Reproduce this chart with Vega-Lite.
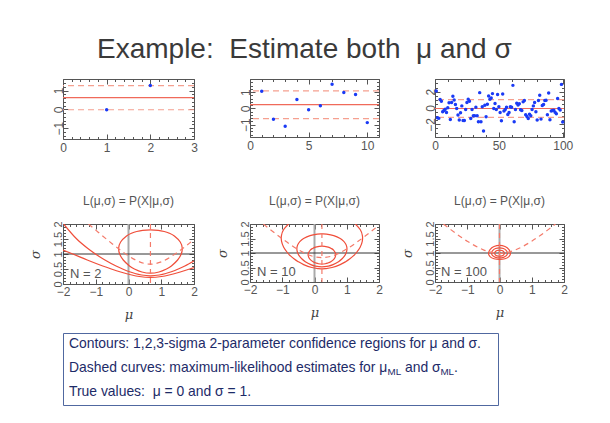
{
 "$schema": "https://vega.github.io/schema/vega-lite/v6.json",
 "background": "white",
 "padding": {"left": 23, "top": 36, "right": 4, "bottom": 4},
 "title": {"text": "Example:\u00a0 Estimate both\u00a0 μ and σ", "fontSize": 28, "font": "Liberation Sans", "fontWeight": "normal", "color": "#3a3a3a", "anchor": "middle", "baseline": "bottom", "offset": -14, "dx": 6},
 "spacing": 10,
 "datasets": {
  "t1": [{"i":1,"v":-0.02},{"i":2,"v":1.26}],
  "t1s": [{"kind":"mean","v":0.62},{"kind":"sd","v":-0.02},{"kind":"sd","v":1.26}],
  "t2": [{"i":1,"v":1.05},{"i":2,"v":-0.66},{"i":3,"v":-1.09},{"i":4,"v":0.54},{"i":5,"v":-0.08},{"i":6,"v":0.16},{"i":7,"v":1.48},{"i":8,"v":0.97},{"i":9,"v":0.85},{"i":10,"v":-0.87}],
  "t2s": [{"kind":"mean","v":0.235},{"kind":"sd","v":1.07},{"kind":"sd","v":-0.62}],
  "t3": [{"i":1,"v":2.09},{"i":2,"v":-1.19},{"i":3,"v":-1.27},{"i":4,"v":1.03},{"i":5,"v":0.83},{"i":6,"v":-0.47},{"i":7,"v":-0.3},{"i":8,"v":-0.14},{"i":9,"v":-0.55},{"i":10,"v":0.02},
         {"i":11,"v":0.63},{"i":12,"v":-1.4},{"i":13,"v":0.67},{"i":14,"v":1.44},{"i":15,"v":0.99},{"i":16,"v":0.43},{"i":17,"v":-0.06},{"i":18,"v":-0.87},{"i":19,"v":-1.48},{"i":20,"v":-0.59},
         {"i":21,"v":0.26},{"i":22,"v":-1.52},{"i":23,"v":-1.52},{"i":24,"v":-0.18},{"i":25,"v":0.67},{"i":26,"v":1.07},{"i":27,"v":0.83},{"i":28,"v":-1.28},{"i":29,"v":-0.18},{"i":30,"v":-0.95},
         {"i":31,"v":-0.95},{"i":32,"v":0.1},{"i":33,"v":-0.95},{"i":34,"v":-1.68},{"i":35,"v":1.88},{"i":36,"v":-1.68},{"i":37,"v":0.14},{"i":38,"v":-2.81},{"i":39,"v":0.34},{"i":40,"v":-1.07},
         {"i":41,"v":0.47},{"i":42,"v":1.48},{"i":43,"v":1.07},{"i":44,"v":1.23},{"i":45,"v":1.76},{"i":46,"v":-0.06},{"i":47,"v":0.55},{"i":48,"v":-0.18},{"i":49,"v":1.64},{"i":50,"v":0.14},
         {"i":51,"v":-0.55},{"i":52,"v":-1.56},{"i":53,"v":1.72},{"i":54,"v":-0.38},{"i":55,"v":-0.18},{"i":56,"v":0.1},{"i":57,"v":-0.79},{"i":58,"v":-0.55},{"i":59,"v":0.14},{"i":60,"v":0.1},
         {"i":61,"v":2.77},{"i":62,"v":-1.68},{"i":63,"v":-0.18},{"i":64,"v":0.59},{"i":65,"v":0.38},{"i":66,"v":0.51},{"i":67,"v":-0.22},{"i":68,"v":-0.3},{"i":69,"v":0.75},{"i":70,"v":0.91},
         {"i":71,"v":-0.83},{"i":72,"v":-1.03},{"i":73,"v":-1.28},{"i":74,"v":-0.75},{"i":75,"v":-0.95},{"i":76,"v":-0.18},{"i":77,"v":0.26},{"i":78,"v":0.67},{"i":79,"v":-0.47},{"i":80,"v":-1.48},
         {"i":81,"v":0.91},{"i":82,"v":1.56},{"i":83,"v":-1.36},{"i":84,"v":0.3},{"i":85,"v":0.43},{"i":86,"v":0.91},{"i":87,"v":0.95},{"i":88,"v":-0.83},{"i":89,"v":1.84},{"i":90,"v":-1.44},
         {"i":91,"v":-0.38},{"i":92,"v":-0.3},{"i":93,"v":-0.26},{"i":94,"v":-0.51},{"i":95,"v":-0.71},{"i":96,"v":1.15},{"i":97,"v":-0.06},{"i":98,"v":-0.26},{"i":99,"v":2.89},{"i":100,"v":-1.72}],
  "t3s": [{"kind":"mean","v":-0.06},{"kind":"sd","v":1.03},{"kind":"sd","v":-1.15}],
  "truth": [{"mu":0,"sig":1}],
  "b1": [
   {"g":"c1","k":1,"mu":0.67,"sig":0.36},{"g":"c1","k":2,"mu":0.93,"sig":0.4},{"g":"c1","k":3,"mu":1.16,"sig":0.5},{"g":"c1","k":4,"mu":1.31,"sig":0.6},{"g":"c1","k":5,"mu":1.5,"sig":0.8},{"g":"c1","k":6,"mu":1.61,"sig":1.0},{"g":"c1","k":7,"mu":1.64,"sig":1.2},{"g":"c1","k":8,"mu":1.58,"sig":1.4},{"g":"c1","k":9,"mu":1.4,"sig":1.6},{"g":"c1","k":10,"mu":1.23,"sig":1.7},{"g":"c1","k":11,"mu":1.09,"sig":1.75},{"g":"c1","k":12,"mu":0.91,"sig":1.79},{"g":"c1","k":13,"mu":0.67,"sig":1.805},{"g":"c1","k":14,"mu":0.43,"sig":1.79},{"g":"c1","k":15,"mu":0.25,"sig":1.75},{"g":"c1","k":16,"mu":0.11,"sig":1.7},{"g":"c1","k":17,"mu":-0.06,"sig":1.6},{"g":"c1","k":18,"mu":-0.24,"sig":1.4},{"g":"c1","k":19,"mu":-0.3,"sig":1.2},{"g":"c1","k":20,"mu":-0.27,"sig":1.0},{"g":"c1","k":21,"mu":-0.16,"sig":0.8},{"g":"c1","k":22,"mu":0.03,"sig":0.6},{"g":"c1","k":23,"mu":0.18,"sig":0.5},{"g":"c1","k":24,"mu":0.41,"sig":0.4},
   {"g":"c2","k":2,"mu":-1.98,"sig":2.0},{"g":"c2","k":3,"mu":-1.58,"sig":1.5},{"g":"c2","k":4,"mu":-1.26,"sig":1.2},{"g":"c2","k":5,"mu":-1.01,"sig":1.0},{"g":"c2","k":6,"mu":-0.72,"sig":0.8},{"g":"c2","k":7,"mu":-0.38,"sig":0.6},{"g":"c2","k":8,"mu":-0.18,"sig":0.5},{"g":"c2","k":9,"mu":0.055,"sig":0.4},{"g":"c2","k":10,"mu":0.2,"sig":0.35},{"g":"c2","k":11,"mu":0.4,"sig":0.3},{"g":"c2","k":12,"mu":0.67,"sig":0.273},{"g":"c2","k":13,"mu":0.94,"sig":0.3},{"g":"c2","k":14,"mu":1.14,"sig":0.35},{"g":"c2","k":15,"mu":1.285,"sig":0.4},{"g":"c2","k":16,"mu":1.52,"sig":0.5},{"g":"c2","k":17,"mu":1.72,"sig":0.6},{"g":"c2","k":18,"mu":2.0,"sig":0.765},
   {"g":"c3","k":1,"mu":-2.0,"sig":1.13},{"g":"c3","k":2,"mu":-1.7,"sig":1.0},{"g":"c3","k":3,"mu":-1.26,"sig":0.8},{"g":"c3","k":4,"mu":-0.785,"sig":0.6},{"g":"c3","k":5,"mu":-0.525,"sig":0.5},{"g":"c3","k":6,"mu":-0.24,"sig":0.4},{"g":"c3","k":7,"mu":0.1,"sig":0.3},{"g":"c3","k":8,"mu":0.33,"sig":0.25},{"g":"c3","k":9,"mu":0.67,"sig":0.218},{"g":"c3","k":10,"mu":1.01,"sig":0.25},{"g":"c3","k":11,"mu":1.24,"sig":0.3},{"g":"c3","k":12,"mu":1.58,"sig":0.4},{"g":"c3","k":13,"mu":1.865,"sig":0.5},{"g":"c3","k":14,"mu":2.0,"sig":0.55},
   {"g":"ml","k":1,"mu":-1.22,"sig":2.0},{"g":"ml","k":3,"mu":-1,"sig":1.796},{"g":"ml","k":4,"mu":-0.5,"sig":1.343},{"g":"ml","k":5,"mu":-0.25,"sig":1.132},{"g":"ml","k":6,"mu":0,"sig":0.94},{"g":"ml","k":7,"mu":0.25,"sig":0.782},{"g":"ml","k":8,"mu":0.5,"sig":0.682},{"g":"ml","k":9,"mu":0.67,"sig":0.66},{"g":"ml","k":10,"mu":1.0,"sig":0.738},{"g":"ml","k":11,"mu":1.5,"sig":1.06},{"g":"ml","k":12,"mu":2.0,"sig":1.485}
  ],
  "b1v": [{"mu":0.67}],
  "b2": [
   {"g":"c1","k":1,"mu":0.23,"sig":0.62},{"g":"c1","k":2,"mu":0.335,"sig":0.63},{"g":"c1","k":3,"mu":0.405,"sig":0.65},{"g":"c1","k":4,"mu":0.505,"sig":0.7},{"g":"c1","k":5,"mu":0.61,"sig":0.8},{"g":"c1","k":6,"mu":0.653,"sig":0.9},{"g":"c1","k":7,"mu":0.649,"sig":1.0},{"g":"c1","k":8,"mu":0.591,"sig":1.1},{"g":"c1","k":9,"mu":0.53,"sig":1.15},{"g":"c1","k":10,"mu":0.426,"sig":1.2},{"g":"c1","k":11,"mu":0.23,"sig":1.235},{"g":"c1","k":12,"mu":0.034,"sig":1.2},{"g":"c1","k":13,"mu":-0.07,"sig":1.15},{"g":"c1","k":14,"mu":-0.131,"sig":1.1},{"g":"c1","k":15,"mu":-0.189,"sig":1.0},{"g":"c1","k":16,"mu":-0.193,"sig":0.9},{"g":"c1","k":17,"mu":-0.15,"sig":0.8},{"g":"c1","k":18,"mu":-0.045,"sig":0.7},{"g":"c1","k":19,"mu":0.055,"sig":0.65},{"g":"c1","k":20,"mu":0.125,"sig":0.63},
   {"g":"c2","k":1,"mu":0.23,"sig":0.525},{"g":"c2","k":2,"mu":0.43,"sig":0.55},{"g":"c2","k":3,"mu":0.575,"sig":0.6},{"g":"c2","k":4,"mu":0.745,"sig":0.7},{"g":"c2","k":5,"mu":0.856,"sig":0.8},{"g":"c2","k":6,"mu":0.932,"sig":0.9},{"g":"c2","k":7,"mu":0.98,"sig":1.0},{"g":"c2","k":8,"mu":1.004,"sig":1.1},{"g":"c2","k":9,"mu":1.002,"sig":1.2},{"g":"c2","k":10,"mu":0.972,"sig":1.3},{"g":"c2","k":11,"mu":0.909,"sig":1.4},{"g":"c2","k":12,"mu":0.799,"sig":1.5},{"g":"c2","k":13,"mu":0.597,"sig":1.6},{"g":"c2","k":14,"mu":0.373,"sig":1.65},{"g":"c2","k":15,"mu":0.23,"sig":1.657},{"g":"c2","k":16,"mu":0.087,"sig":1.65},{"g":"c2","k":17,"mu":-0.137,"sig":1.6},{"g":"c2","k":18,"mu":-0.339,"sig":1.5},{"g":"c2","k":19,"mu":-0.449,"sig":1.4},{"g":"c2","k":20,"mu":-0.512,"sig":1.3},{"g":"c2","k":21,"mu":-0.542,"sig":1.2},{"g":"c2","k":22,"mu":-0.544,"sig":1.1},{"g":"c2","k":23,"mu":-0.52,"sig":1.0},{"g":"c2","k":24,"mu":-0.472,"sig":0.9},{"g":"c2","k":25,"mu":-0.396,"sig":0.8},{"g":"c2","k":26,"mu":-0.285,"sig":0.7},{"g":"c2","k":27,"mu":-0.115,"sig":0.6},{"g":"c2","k":28,"mu":0.03,"sig":0.55},
   {"g":"c3","k":1,"mu":1.267,"sig":2.0},{"g":"c3","k":2,"mu":1.421,"sig":1.8},{"g":"c3","k":3,"mu":1.485,"sig":1.6},{"g":"c3","k":4,"mu":1.481,"sig":1.4},{"g":"c3","k":5,"mu":1.416,"sig":1.2},{"g":"c3","k":6,"mu":1.291,"sig":1.0},{"g":"c3","k":7,"mu":1.204,"sig":0.9},{"g":"c3","k":8,"mu":1.097,"sig":0.8},{"g":"c3","k":9,"mu":0.966,"sig":0.7},{"g":"c3","k":10,"mu":0.797,"sig":0.6},{"g":"c3","k":11,"mu":0.544,"sig":0.5},{"g":"c3","k":12,"mu":0.33,"sig":0.46},{"g":"c3","k":13,"mu":0.23,"sig":0.455},{"g":"c3","k":14,"mu":0.13,"sig":0.46},{"g":"c3","k":15,"mu":-0.084,"sig":0.5},{"g":"c3","k":16,"mu":-0.337,"sig":0.6},{"g":"c3","k":17,"mu":-0.506,"sig":0.7},{"g":"c3","k":18,"mu":-0.637,"sig":0.8},{"g":"c3","k":19,"mu":-0.744,"sig":0.9},{"g":"c3","k":20,"mu":-0.831,"sig":1.0},{"g":"c3","k":21,"mu":-0.956,"sig":1.2},{"g":"c3","k":22,"mu":-1.021,"sig":1.4},{"g":"c3","k":23,"mu":-1.025,"sig":1.6},{"g":"c3","k":24,"mu":-0.961,"sig":1.8},{"g":"c3","k":25,"mu":-0.807,"sig":2.0},
   {"g":"ml","k":1,"mu":-1.585,"sig":2.0},{"g":"ml","k":3,"mu":-1,"sig":1.49},{"g":"ml","k":4,"mu":-0.5,"sig":1.113},{"g":"ml","k":5,"mu":-0.25,"sig":0.967},{"g":"ml","k":6,"mu":0,"sig":0.871},{"g":"ml","k":7,"mu":0.23,"sig":0.84},{"g":"ml","k":8,"mu":0.5,"sig":0.882},{"g":"ml","k":9,"mu":0.75,"sig":0.988},{"g":"ml","k":10,"mu":1.0,"sig":1.14},{"g":"ml","k":11,"mu":1.5,"sig":1.523},{"g":"ml","k":12,"mu":2.0,"sig":1.959}
  ],
  "b2v": [{"mu":0.23}],
  "b3": [
   {"g":"c1","k":1,"mu":0.15,"sig":0.99},{"g":"c1","k":2,"mu":0.13,"sig":1.044},{"g":"c1","k":3,"mu":0.075,"sig":1.086},{"g":"c1","k":4,"mu":0,"sig":1.102},{"g":"c1","k":5,"mu":-0.075,"sig":1.086},{"g":"c1","k":6,"mu":-0.13,"sig":1.044},{"g":"c1","k":7,"mu":-0.15,"sig":0.99},{"g":"c1","k":8,"mu":-0.13,"sig":0.938},{"g":"c1","k":9,"mu":-0.075,"sig":0.902},{"g":"c1","k":10,"mu":0,"sig":0.889},{"g":"c1","k":11,"mu":0.075,"sig":0.902},{"g":"c1","k":12,"mu":0.13,"sig":0.938},
   {"g":"c2","k":1,"mu":0.246,"sig":0.99},{"g":"c2","k":2,"mu":0.213,"sig":1.081},{"g":"c2","k":3,"mu":0.123,"sig":1.153},{"g":"c2","k":4,"mu":0,"sig":1.18},{"g":"c2","k":5,"mu":-0.123,"sig":1.153},{"g":"c2","k":6,"mu":-0.213,"sig":1.081},{"g":"c2","k":7,"mu":-0.246,"sig":0.99},{"g":"c2","k":8,"mu":-0.213,"sig":0.907},{"g":"c2","k":9,"mu":-0.123,"sig":0.85},{"g":"c2","k":10,"mu":0,"sig":0.831},{"g":"c2","k":11,"mu":0.123,"sig":0.85},{"g":"c2","k":12,"mu":0.213,"sig":0.907},
   {"g":"c3","k":1,"mu":0.34,"sig":0.99},{"g":"c3","k":2,"mu":0.294,"sig":1.118},{"g":"c3","k":3,"mu":0.17,"sig":1.222},{"g":"c3","k":4,"mu":0,"sig":1.262},{"g":"c3","k":5,"mu":-0.17,"sig":1.222},{"g":"c3","k":6,"mu":-0.294,"sig":1.118},{"g":"c3","k":7,"mu":-0.34,"sig":0.99},{"g":"c3","k":8,"mu":-0.294,"sig":0.877},{"g":"c3","k":9,"mu":-0.17,"sig":0.802},{"g":"c3","k":10,"mu":0,"sig":0.777},{"g":"c3","k":11,"mu":0.17,"sig":0.802},{"g":"c3","k":12,"mu":0.294,"sig":0.877},
   {"g":"ml","k":1,"mu":-1.738,"sig":2.0},{"g":"ml","k":2,"mu":-1.5,"sig":1.797},{"g":"ml","k":3,"mu":-1,"sig":1.407},{"g":"ml","k":4,"mu":-0.5,"sig":1.109},{"g":"ml","k":5,"mu":-0.25,"sig":1.021},{"g":"ml","k":6,"mu":0,"sig":0.99},{"g":"ml","k":7,"mu":0.25,"sig":1.021},{"g":"ml","k":8,"mu":0.5,"sig":1.109},{"g":"ml","k":9,"mu":1,"sig":1.407},{"g":"ml","k":10,"mu":1.5,"sig":1.797},{"g":"ml","k":11,"mu":1.738,"sig":2.0}
  ],
  "b3v": [{"mu":0}],
  "notes": [
   {"line":"1","part":"main","text":"Contours: 1,2,3-sigma 2-parameter confidence regions for μ and σ."},
   {"line":"2","part":"main","text":"Dashed curves: maximum-likelihood estimates for μ"},
   {"line":"2","part":"sub1","text":"ML"},
   {"line":"2","part":"mid","text":"and σ"},
   {"line":"2","part":"sub2","text":"ML"},
   {"line":"2","part":"end","text":"."},
   {"line":"3","part":"main","text":"True values:\u00a0 μ = 0 and σ = 1."}
  ]
 },
 "vconcat": [
  {
   "spacing": 56, "bounds": "flush",
   "hconcat": [
    {
     "width": 131, "height": 60,
     "resolve": {"axis": {"x": "independent", "y": "independent"}},
     "layer": [
      {"data": {"name": "t1s"}, "transform": [{"filter": "datum.kind == 'sd'"}],
       "mark": {"type": "rule", "color": "#f5a090", "strokeDash": [6, 4], "strokeWidth": 1.2},
       "encoding": {"y": {"field": "v", "type": "quantitative", "scale": {"domain": [-1.57, 1.61], "nice": false, "zero": false}, "axis": null}}},
      {"data": {"name": "t1s"}, "transform": [{"filter": "datum.kind == 'mean'"}],
       "mark": {"type": "rule", "color": "#f06a5a", "strokeWidth": 1.2},
       "encoding": {"y": {"field": "v", "type": "quantitative", "axis": null}}},
      {"data": {"name": "t1"}, "mark": {"type": "circle", "size": 12, "color": "#1a3af5", "opacity": 1},
       "encoding": {
        "x": {"field": "i", "type": "quantitative", "scale": {"domain": [0, 3], "nice": false, "zero": false},
              "axis": {"orient": "bottom", "title": null, "format": "~g", "values": [0,0.2,0.4,0.6,0.8,1,1.2,1.4,1.6,1.8,2,2.2,2.4,2.6,2.8,3], "labelExpr": "abs(datum.value-round(datum.value))<1e-6 ? datum.label : ''", "tickSize": {"expr": "abs(datum.value-round(datum.value))<1e-6 ? -5 : -2.5"}, "labelPadding": 8, "labelBaseline": "top", "minExtent": 44.5, "maxExtent": 44.5}},
        "y": {"field": "v", "type": "quantitative",
              "axis": {"orient": "left", "title": null, "format": "~g", "values": [-1.4,-1.2,-1,-0.8,-0.6,-0.4,-0.2,0,0.2,0.4,0.6,0.8,1,1.2,1.4,1.6], "labelExpr": "abs(datum.value-round(datum.value))<1e-6 ? datum.label : ''", "tickSize": {"expr": "abs(datum.value-round(datum.value))<1e-6 ? -5 : -2.5"}, "labelAngle": -90, "labelAlign": "center", "labelBaseline": "middle", "labelPadding": 10, "minExtent": 34, "maxExtent": 34}}}},
      {"data": {"name": "t1"}, "mark": {"type": "circle", "opacity": 0},
       "encoding": {
        "x": {"field": "i", "type": "quantitative", "axis": {"orient": "bottom", "offset": -60, "title": null, "labels": false, "values": [0,0.2,0.4,0.6,0.8,1,1.2,1.4,1.6,1.8,2,2.2,2.4,2.6,2.8,3], "tickSize": {"expr": "abs(datum.value-round(datum.value))<1e-6 ? 5 : 2.5"}, "minExtent": 0, "maxExtent": 0}},
        "y": {"field": "v", "type": "quantitative", "axis": {"orient": "left", "offset": -131, "title": null, "labels": false, "values": [-1.4,-1.2,-1,-0.8,-0.6,-0.4,-0.2,0,0.2,0.4,0.6,0.8,1,1.2,1.4,1.6], "tickSize": {"expr": "abs(datum.value-round(datum.value))<1e-6 ? 5 : 2.5"}, "minExtent": 0, "maxExtent": 0}}}}
     ]
    },
    {
     "width": 129, "height": 58,
     "resolve": {"axis": {"x": "independent", "y": "independent"}},
     "layer": [
      {"data": {"name": "t2s"}, "transform": [{"filter": "datum.kind == 'sd'"}],
       "mark": {"type": "rule", "color": "#f5a090", "strokeDash": [6, 4], "strokeWidth": 1.2},
       "encoding": {"y": {"field": "v", "type": "quantitative", "scale": {"domain": [-1.75, 1.8], "nice": false, "zero": false}, "axis": null}}},
      {"data": {"name": "t2s"}, "transform": [{"filter": "datum.kind == 'mean'"}],
       "mark": {"type": "rule", "color": "#f06a5a", "strokeWidth": 1.2},
       "encoding": {"y": {"field": "v", "type": "quantitative", "axis": null}}},
      {"data": {"name": "t2"}, "mark": {"type": "circle", "size": 12, "color": "#1a3af5", "opacity": 1},
       "encoding": {
        "x": {"field": "i", "type": "quantitative", "scale": {"domain": [0, 11], "nice": false, "zero": false},
              "axis": {"orient": "bottom", "title": null, "format": "d", "values": [0,1,2,3,4,5,6,7,8,9,10,11], "labelExpr": "datum.value % 5 === 0 ? datum.label : ''", "tickSize": {"expr": "datum.value % 5 === 0 ? -5 : -2.5"}, "labelPadding": 8, "labelBaseline": "top", "minExtent": 44.5, "maxExtent": 44.5}},
        "y": {"field": "v", "type": "quantitative",
              "axis": {"orient": "left", "title": null, "format": "~g", "values": [-1.6,-1.4,-1.2,-1,-0.8,-0.6,-0.4,-0.2,0,0.2,0.4,0.6,0.8,1,1.2,1.4,1.6,1.8], "labelExpr": "abs(datum.value-round(datum.value))<1e-6 ? datum.label : ''", "tickSize": {"expr": "abs(datum.value-round(datum.value))<1e-6 ? -5 : -2.5"}, "labelAngle": -90, "labelAlign": "center", "labelBaseline": "middle", "labelPadding": 10, "minExtent": 34, "maxExtent": 34}}}},
      {"data": {"name": "t2"}, "mark": {"type": "circle", "opacity": 0},
       "encoding": {
        "x": {"field": "i", "type": "quantitative", "axis": {"orient": "bottom", "offset": -58, "title": null, "labels": false, "values": [0,1,2,3,4,5,6,7,8,9,10,11], "tickSize": {"expr": "datum.value % 5 === 0 ? 5 : 2.5"}, "minExtent": 0, "maxExtent": 0}},
        "y": {"field": "v", "type": "quantitative", "axis": {"orient": "left", "offset": -129, "title": null, "labels": false, "values": [-1.6,-1.4,-1.2,-1,-0.8,-0.6,-0.4,-0.2,0,0.2,0.4,0.6,0.8,1,1.2,1.4,1.6,1.8], "tickSize": {"expr": "abs(datum.value-round(datum.value))<1e-6 ? 5 : 2.5"}, "minExtent": 0, "maxExtent": 0}}}}
     ]
    },
    {
     "width": 129, "height": 58,
     "resolve": {"axis": {"x": "independent", "y": "independent"}},
     "layer": [
      {"data": {"name": "t3s"}, "transform": [{"filter": "datum.kind == 'sd'"}],
       "mark": {"type": "rule", "color": "#f5a090", "strokeDash": [6, 4], "strokeWidth": 1.2},
       "encoding": {"y": {"field": "v", "type": "quantitative", "scale": {"domain": [-3.55, 3.55], "nice": false, "zero": false}, "axis": null}}},
      {"data": {"name": "t3s"}, "transform": [{"filter": "datum.kind == 'mean'"}],
       "mark": {"type": "rule", "color": "#f06a5a", "strokeWidth": 1.2},
       "encoding": {"y": {"field": "v", "type": "quantitative", "axis": null}}},
      {"data": {"name": "t3"}, "mark": {"type": "circle", "size": 12, "color": "#1a3af5", "opacity": 1},
       "encoding": {
        "x": {"field": "i", "type": "quantitative", "scale": {"domain": [0, 101], "nice": false, "zero": false},
              "axis": {"orient": "bottom", "title": null, "format": "d", "values": [0,10,20,30,40,50,60,70,80,90,100], "labelExpr": "datum.value % 50 === 0 ? datum.label : ''", "tickSize": {"expr": "datum.value % 50 === 0 ? -5 : -2.5"}, "labelPadding": 8, "labelBaseline": "top", "minExtent": 44.5, "maxExtent": 44.5}},
        "y": {"field": "v", "type": "quantitative",
              "axis": {"orient": "left", "title": null, "format": "~g", "values": [-3.5,-3,-2.5,-2,-1.5,-1,-0.5,0,0.5,1,1.5,2,2.5,3,3.5], "labelExpr": "datum.value % 2 === 0 ? datum.label : ''", "tickSize": {"expr": "datum.value % 2 === 0 ? -5 : -2.5"}, "labelAngle": -90, "labelAlign": "center", "labelBaseline": "middle", "labelPadding": 10, "minExtent": 34, "maxExtent": 34}}}},
      {"data": {"name": "t3"}, "mark": {"type": "circle", "opacity": 0},
       "encoding": {
        "x": {"field": "i", "type": "quantitative", "axis": {"orient": "bottom", "offset": -58, "title": null, "labels": false, "values": [0,10,20,30,40,50,60,70,80,90,100], "tickSize": {"expr": "datum.value % 50 === 0 ? 5 : 2.5"}, "minExtent": 0, "maxExtent": 0}},
        "y": {"field": "v", "type": "quantitative", "axis": {"orient": "left", "offset": -129, "title": null, "labels": false, "values": [-3.5,-3,-2.5,-2,-1.5,-1,-0.5,0,0.5,1,1.5,2,2.5,3,3.5], "tickSize": {"expr": "datum.value % 2 === 0 ? 5 : 2.5"}, "minExtent": 0, "maxExtent": 0}}}}
     ]
    }
   ]
  },
  {
   "spacing": 56, "bounds": "flush",
   "hconcat": [
    {
     "width": 131, "height": 60,
     "title": {"text": "L(μ,σ) = P(X|μ,σ)", "fontSize": 12, "fontWeight": "normal", "color": "#555555", "font": "Liberation Sans", "offset": 0.5, "baseline": "bottom", "anchor": "middle"},
     "resolve": {"axis": {"x": "independent", "y": "independent"}},
     "layer": [
      {"data": {"name": "truth"}, "mark": {"type": "rule", "color": "#aaaaaa", "strokeWidth": 2},
       "encoding": {"x": {"field": "mu", "type": "quantitative", "scale": {"domain": [-2, 2], "nice": false, "zero": false}, "axis": null}}},
      {"data": {"name": "truth"}, "mark": {"type": "rule", "color": "#333333", "strokeWidth": 1},
       "encoding": {"y": {"field": "sig", "type": "quantitative", "scale": {"domain": [0, 2], "nice": false, "zero": false}, "axis": null}}},
      {"data": {"name": "b1"}, "transform": [{"filter": "datum.g == 'c1'"}],
       "mark": {"type": "line", "interpolate": "cardinal-closed", "color": "#f04e3a", "strokeWidth": 1.2, "clip": true},
       "encoding": {
        "x": {"field": "mu", "type": "quantitative", "axis": {"orient": "bottom", "title": "μ", "titlePadding": 6, "titleBaseline": "top", "format": "~g", "values": [-2,-1.8,-1.6,-1.4,-1.2,-1,-0.8,-0.6,-0.4,-0.2,0,0.2,0.4,0.6,0.8,1,1.2,1.4,1.6,1.8,2], "labelExpr": "abs(datum.value-round(datum.value))<1e-6 ? datum.label : ''", "tickSize": {"expr": "abs(datum.value-round(datum.value))<1e-6 ? -5 : -2.5"}, "labelPadding": 7, "labelBaseline": "top", "minExtent": 18, "maxExtent": 18}},
        "y": {"field": "sig", "type": "quantitative", "axis": {"orient": "left", "title": "σ", "titlePadding": 7, "titleBaseline": "bottom", "format": "~g", "values": [0,0.1,0.2,0.3,0.4,0.5,0.6,0.7,0.8,0.9,1,1.1,1.2,1.3,1.4,1.5,1.6,1.7,1.8,1.9,2], "labelExpr": "abs(2*datum.value-round(2*datum.value))<1e-6 ? datum.label : ''", "tickSize": {"expr": "abs(2*datum.value-round(2*datum.value))<1e-6 ? -5 : -2.5"}, "labelAngle": -90, "labelAlign": "center", "labelBaseline": "middle", "labelPadding": 10, "labelFontSize": 11, "minExtent": 14, "maxExtent": 14}},
        "order": {"field": "k", "type": "quantitative"},
        "detail": {"field": "g", "type": "nominal"}}},
      {"data": {"name": "b1"}, "transform": [{"filter": "datum.g == 'c2' || datum.g == 'c3'"}],
       "mark": {"type": "line", "interpolate": "monotone", "color": "#f04e3a", "strokeWidth": 1.2, "clip": true},
       "encoding": {
        "x": {"field": "mu", "type": "quantitative", "axis": null},
        "y": {"field": "sig", "type": "quantitative", "axis": null},
        "order": {"field": "k", "type": "quantitative"},
        "detail": {"field": "g", "type": "nominal"}}},
      {"data": {"name": "b1"}, "transform": [{"filter": "datum.g == 'ml'"}],
       "mark": {"type": "line", "interpolate": "monotone", "color": "#f47a6a", "strokeWidth": 1.2, "strokeDash": [5, 4], "clip": true},
       "encoding": {
        "x": {"field": "mu", "type": "quantitative", "axis": null},
        "y": {"field": "sig", "type": "quantitative", "axis": null},
        "order": {"field": "k", "type": "quantitative"}}},
      {"data": {"name": "b1v"}, "mark": {"type": "rule", "color": "#f47a6a", "strokeWidth": 1.2, "strokeDash": [5, 4]},
       "encoding": {"x": {"field": "mu", "type": "quantitative", "axis": null}}},
      {"data": {"values": [{"label": "N = 2"}]}, "mark": {"type": "text", "align": "left", "baseline": "bottom", "dx": 7, "dy": -3, "fontSize": 13, "color": "#555555"},
       "encoding": {"x": {"datum": -2, "type": "quantitative", "axis": null}, "y": {"datum": 0, "type": "quantitative", "axis": null}, "text": {"field": "label"}}},
      {"data": {"name": "truth"}, "mark": {"type": "circle", "opacity": 0},
       "encoding": {
        "x": {"field": "mu", "type": "quantitative", "axis": {"orient": "bottom", "offset": -60, "title": null, "labels": false, "values": [-2,-1.8,-1.6,-1.4,-1.2,-1,-0.8,-0.6,-0.4,-0.2,0,0.2,0.4,0.6,0.8,1,1.2,1.4,1.6,1.8,2], "tickSize": {"expr": "abs(datum.value-round(datum.value))<1e-6 ? 5 : 2.5"}, "minExtent": 0, "maxExtent": 0}},
        "y": {"field": "sig", "type": "quantitative", "axis": {"orient": "left", "offset": -131, "title": null, "labels": false, "values": [0,0.1,0.2,0.3,0.4,0.5,0.6,0.7,0.8,0.9,1,1.1,1.2,1.3,1.4,1.5,1.6,1.7,1.8,1.9,2], "tickSize": {"expr": "abs(2*datum.value-round(2*datum.value))<1e-6 ? 5 : 2.5"}, "minExtent": 0, "maxExtent": 0}}}}
     ]
    },
    {
     "width": 129, "height": 58,
     "title": {"text": "L(μ,σ) = P(X|μ,σ)", "fontSize": 12, "fontWeight": "normal", "color": "#555555", "font": "Liberation Sans", "offset": 0.5, "baseline": "bottom", "anchor": "middle"},
     "resolve": {"axis": {"x": "independent", "y": "independent"}},
     "layer": [
      {"data": {"name": "truth"}, "mark": {"type": "rule", "color": "#aaaaaa", "strokeWidth": 2},
       "encoding": {"x": {"field": "mu", "type": "quantitative", "scale": {"domain": [-2, 2], "nice": false, "zero": false}, "axis": null}}},
      {"data": {"name": "truth"}, "mark": {"type": "rule", "color": "#333333", "strokeWidth": 1},
       "encoding": {"y": {"field": "sig", "type": "quantitative", "scale": {"domain": [0, 2], "nice": false, "zero": false}, "axis": null}}},
      {"data": {"name": "b2"}, "transform": [{"filter": "datum.g == 'c1' || datum.g == 'c2'"}],
       "mark": {"type": "line", "interpolate": "cardinal-closed", "color": "#f04e3a", "strokeWidth": 1.2, "clip": true},
       "encoding": {
        "x": {"field": "mu", "type": "quantitative", "axis": {"orient": "bottom", "title": "μ", "titlePadding": 6, "titleBaseline": "top", "format": "~g", "values": [-2,-1.8,-1.6,-1.4,-1.2,-1,-0.8,-0.6,-0.4,-0.2,0,0.2,0.4,0.6,0.8,1,1.2,1.4,1.6,1.8,2], "labelExpr": "abs(datum.value-round(datum.value))<1e-6 ? datum.label : ''", "tickSize": {"expr": "abs(datum.value-round(datum.value))<1e-6 ? -5 : -2.5"}, "labelPadding": 7, "labelBaseline": "top", "minExtent": 18, "maxExtent": 18}},
        "y": {"field": "sig", "type": "quantitative", "axis": {"orient": "left", "title": "σ", "titlePadding": 7, "titleBaseline": "bottom", "format": "~g", "values": [0,0.1,0.2,0.3,0.4,0.5,0.6,0.7,0.8,0.9,1,1.1,1.2,1.3,1.4,1.5,1.6,1.7,1.8,1.9,2], "labelExpr": "abs(2*datum.value-round(2*datum.value))<1e-6 ? datum.label : ''", "tickSize": {"expr": "abs(2*datum.value-round(2*datum.value))<1e-6 ? -5 : -2.5"}, "labelAngle": -90, "labelAlign": "center", "labelBaseline": "middle", "labelPadding": 10, "labelFontSize": 11, "minExtent": 14, "maxExtent": 14}},
        "order": {"field": "k", "type": "quantitative"},
        "detail": {"field": "g", "type": "nominal"}}},
      {"data": {"name": "b2"}, "transform": [{"filter": "datum.g == 'c3'"}],
       "mark": {"type": "line", "interpolate": "cardinal", "color": "#f04e3a", "strokeWidth": 1.2, "clip": true},
       "encoding": {
        "x": {"field": "mu", "type": "quantitative", "axis": null},
        "y": {"field": "sig", "type": "quantitative", "axis": null},
        "order": {"field": "k", "type": "quantitative"}}},
      {"data": {"name": "b2"}, "transform": [{"filter": "datum.g == 'ml'"}],
       "mark": {"type": "line", "interpolate": "monotone", "color": "#f47a6a", "strokeWidth": 1.2, "strokeDash": [5, 4], "clip": true},
       "encoding": {
        "x": {"field": "mu", "type": "quantitative", "axis": null},
        "y": {"field": "sig", "type": "quantitative", "axis": null},
        "order": {"field": "k", "type": "quantitative"}}},
      {"data": {"name": "b2v"}, "mark": {"type": "rule", "color": "#f47a6a", "strokeWidth": 1.2, "strokeDash": [5, 4]},
       "encoding": {"x": {"field": "mu", "type": "quantitative", "axis": null}}},
      {"data": {"values": [{"label": "N = 10"}]}, "mark": {"type": "text", "align": "left", "baseline": "bottom", "dx": 7, "dy": -3, "fontSize": 13, "color": "#555555"},
       "encoding": {"x": {"datum": -2, "type": "quantitative", "axis": null}, "y": {"datum": 0, "type": "quantitative", "axis": null}, "text": {"field": "label"}}},
      {"data": {"name": "truth"}, "mark": {"type": "circle", "opacity": 0},
       "encoding": {
        "x": {"field": "mu", "type": "quantitative", "axis": {"orient": "bottom", "offset": -58, "title": null, "labels": false, "values": [-2,-1.8,-1.6,-1.4,-1.2,-1,-0.8,-0.6,-0.4,-0.2,0,0.2,0.4,0.6,0.8,1,1.2,1.4,1.6,1.8,2], "tickSize": {"expr": "abs(datum.value-round(datum.value))<1e-6 ? 5 : 2.5"}, "minExtent": 0, "maxExtent": 0}},
        "y": {"field": "sig", "type": "quantitative", "axis": {"orient": "left", "offset": -129, "title": null, "labels": false, "values": [0,0.1,0.2,0.3,0.4,0.5,0.6,0.7,0.8,0.9,1,1.1,1.2,1.3,1.4,1.5,1.6,1.7,1.8,1.9,2], "tickSize": {"expr": "abs(2*datum.value-round(2*datum.value))<1e-6 ? 5 : 2.5"}, "minExtent": 0, "maxExtent": 0}}}}
     ]
    },
    {
     "width": 129, "height": 58,
     "title": {"text": "L(μ,σ) = P(X|μ,σ)", "fontSize": 12, "fontWeight": "normal", "color": "#555555", "font": "Liberation Sans", "offset": 0.5, "baseline": "bottom", "anchor": "middle"},
     "resolve": {"axis": {"x": "independent", "y": "independent"}},
     "layer": [
      {"data": {"name": "truth"}, "mark": {"type": "rule", "color": "#aaaaaa", "strokeWidth": 2},
       "encoding": {"x": {"field": "mu", "type": "quantitative", "scale": {"domain": [-2, 2], "nice": false, "zero": false}, "axis": null}}},
      {"data": {"name": "truth"}, "mark": {"type": "rule", "color": "#333333", "strokeWidth": 1},
       "encoding": {"y": {"field": "sig", "type": "quantitative", "scale": {"domain": [0, 2], "nice": false, "zero": false}, "axis": null}}},
      {"data": {"name": "b3"}, "transform": [{"filter": "datum.g != 'ml'"}],
       "mark": {"type": "line", "interpolate": "cardinal-closed", "color": "#f04e3a", "strokeWidth": 1.2, "clip": true},
       "encoding": {
        "x": {"field": "mu", "type": "quantitative", "axis": {"orient": "bottom", "title": "μ", "titlePadding": 6, "titleBaseline": "top", "format": "~g", "values": [-2,-1.8,-1.6,-1.4,-1.2,-1,-0.8,-0.6,-0.4,-0.2,0,0.2,0.4,0.6,0.8,1,1.2,1.4,1.6,1.8,2], "labelExpr": "abs(datum.value-round(datum.value))<1e-6 ? datum.label : ''", "tickSize": {"expr": "abs(datum.value-round(datum.value))<1e-6 ? -5 : -2.5"}, "labelPadding": 7, "labelBaseline": "top", "minExtent": 18, "maxExtent": 18}},
        "y": {"field": "sig", "type": "quantitative", "axis": {"orient": "left", "title": "σ", "titlePadding": 7, "titleBaseline": "bottom", "format": "~g", "values": [0,0.1,0.2,0.3,0.4,0.5,0.6,0.7,0.8,0.9,1,1.1,1.2,1.3,1.4,1.5,1.6,1.7,1.8,1.9,2], "labelExpr": "abs(2*datum.value-round(2*datum.value))<1e-6 ? datum.label : ''", "tickSize": {"expr": "abs(2*datum.value-round(2*datum.value))<1e-6 ? -5 : -2.5"}, "labelAngle": -90, "labelAlign": "center", "labelBaseline": "middle", "labelPadding": 10, "labelFontSize": 11, "minExtent": 14, "maxExtent": 14}},
        "order": {"field": "k", "type": "quantitative"},
        "detail": {"field": "g", "type": "nominal"}}},
      {"data": {"name": "b3"}, "transform": [{"filter": "datum.g == 'ml'"}],
       "mark": {"type": "line", "interpolate": "monotone", "color": "#f47a6a", "strokeWidth": 1.2, "strokeDash": [5, 4], "clip": true},
       "encoding": {
        "x": {"field": "mu", "type": "quantitative", "axis": null},
        "y": {"field": "sig", "type": "quantitative", "axis": null},
        "order": {"field": "k", "type": "quantitative"}}},
      {"data": {"name": "b3v"}, "mark": {"type": "rule", "color": "#f47a6a", "strokeWidth": 1.2, "strokeDash": [5, 4]},
       "encoding": {"x": {"field": "mu", "type": "quantitative", "axis": null}}},
      {"data": {"values": [{"label": "N = 100"}]}, "mark": {"type": "text", "align": "left", "baseline": "bottom", "dx": 6, "dy": -3, "fontSize": 13, "color": "#555555"},
       "encoding": {"x": {"datum": -2, "type": "quantitative", "axis": null}, "y": {"datum": 0, "type": "quantitative", "axis": null}, "text": {"field": "label"}}},
      {"data": {"name": "truth"}, "mark": {"type": "circle", "opacity": 0},
       "encoding": {
        "x": {"field": "mu", "type": "quantitative", "axis": {"orient": "bottom", "offset": -58, "title": null, "labels": false, "values": [-2,-1.8,-1.6,-1.4,-1.2,-1,-0.8,-0.6,-0.4,-0.2,0,0.2,0.4,0.6,0.8,1,1.2,1.4,1.6,1.8,2], "tickSize": {"expr": "abs(datum.value-round(datum.value))<1e-6 ? 5 : 2.5"}, "minExtent": 0, "maxExtent": 0}},
        "y": {"field": "sig", "type": "quantitative", "axis": {"orient": "left", "offset": -129, "title": null, "labels": false, "values": [0,0.1,0.2,0.3,0.4,0.5,0.6,0.7,0.8,0.9,1,1.1,1.2,1.3,1.4,1.5,1.6,1.7,1.8,1.9,2], "tickSize": {"expr": "abs(2*datum.value-round(2*datum.value))<1e-6 ? 5 : 2.5"}, "minExtent": 0, "maxExtent": 0}}}}
     ]
    }
   ]
  },
  {
   "width": 435, "height": 72,
   "view": {"stroke": "#5068a0", "strokeWidth": 1},
   "data": {"name": "notes"},
   "encoding": {
    "x": {"datum": 0, "type": "quantitative", "scale": {"domain": [0, 1]}, "axis": null},
    "y": {"field": "line", "type": "ordinal", "scale": {"type": "point", "padding": 0.5, "domain": ["1", "2", "3"]}, "axis": {"orient": "left", "title": null, "labels": false, "ticks": false, "domain": false, "minExtent": 39, "maxExtent": 39}},
    "text": {"field": "text"}
   },
   "layer": [
    {"transform": [{"filter": "datum.part == 'main'"}], "mark": {"type": "text", "align": "left", "baseline": "middle", "dx": 6, "dy": -1.5, "fontSize": 13.9, "font": "Liberation Sans", "color": "#1d2b68"}},
    {"transform": [{"filter": "datum.part == 'sub1'"}], "mark": {"type": "text", "align": "left", "baseline": "middle", "dx": 324.5, "dy": 2.5, "fontSize": 9.8, "font": "Liberation Sans", "color": "#1d2b68"}},
    {"transform": [{"filter": "datum.part == 'mid'"}], "mark": {"type": "text", "align": "left", "baseline": "middle", "dx": 342, "dy": -1.5, "fontSize": 13.9, "font": "Liberation Sans", "color": "#1d2b68"}},
    {"transform": [{"filter": "datum.part == 'sub2'"}], "mark": {"type": "text", "align": "left", "baseline": "middle", "dx": 377.4, "dy": 2.5, "fontSize": 9.8, "font": "Liberation Sans", "color": "#1d2b68"}},
    {"transform": [{"filter": "datum.part == 'end'"}], "mark": {"type": "text", "align": "left", "baseline": "middle", "dx": 391, "dy": -1.5, "fontSize": 13.9, "font": "Liberation Sans", "color": "#1d2b68"}}
   ]
  }
 ],
 "config": {
  "font": "Liberation Sans",
  "view": {"stroke": "#555555", "strokeWidth": 1},
  "axis": {"domain": false, "grid": false, "tickColor": "#555555", "tickWidth": 1, "labelColor": "#555555", "labelFont": "Liberation Sans", "labelFontSize": 12, "labelFlush": false, "labelOverlap": false, "titleColor": "#444444", "titleFont": "DejaVu Serif", "titleFontStyle": "italic", "titleFontWeight": "normal", "titleFontSize": 13}
 }
}
